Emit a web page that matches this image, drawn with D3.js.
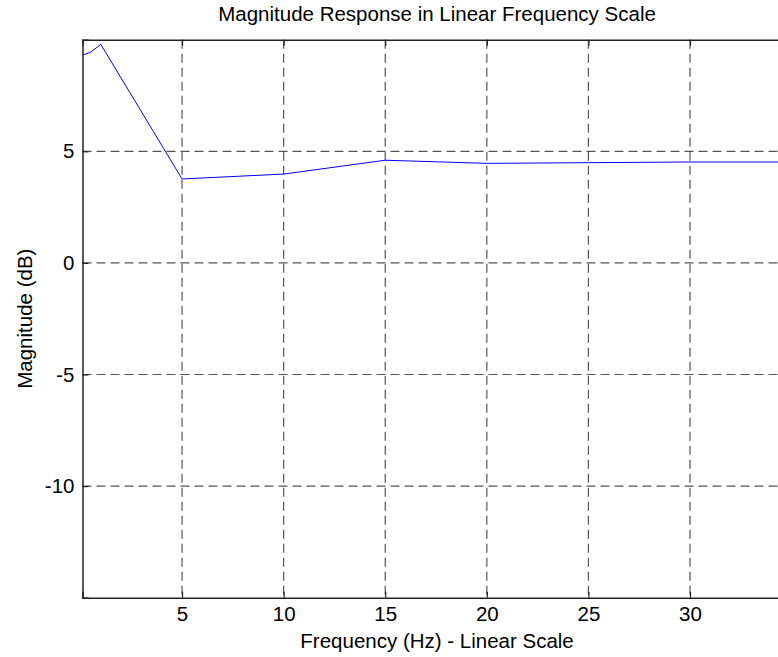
<!DOCTYPE html>
<html>
<head>
<meta charset="utf-8">
<script src="https://cdn.jsdelivr.net/npm/d3@7"></script>
<style>
  body { margin: 0; background: #fff; }
  text { font-family: "Liberation Sans", Arial, sans-serif; fill: #000; }
</style>
</head>
<body>
<div id="my_viz"></div>
<script>
var width = 778,
    height = 657;

// data
var freqs = [0.1, 0.5, 1, 5, 10, 15, 20, 25, 30, 35];
var magDb = [9.31, 9.44, 9.79, 3.76, 3.98, 4.60, 4.46, 4.49, 4.52, 4.52];
var xTicks = [5, 10, 15, 20, 25, 30];
var yTicks = [5, 0, -5, -10];

var plotLeft = 82.5, plotRight = 791.6, plotTop = 39.7, plotBottom = 597.7;
var fontSize = 20.5;

var x = d3.scaleLinear().domain([0.1, 35]).range([plotLeft, plotRight]);
var y = d3.scaleLinear().domain([-15, 10]).range([plotBottom, plotTop]);

var svg = d3.select("#my_viz")
    .append("svg")
    .attr("width", width)
    .attr("height", height)
    .style("display", "block");

// grid
var grid = svg.append("g")
    .attr("stroke", "#555")
    .attr("stroke-width", 1.2)
    .attr("stroke-dasharray", "9,5");

grid.selectAll(".vgrid").data(xTicks).enter()
    .append("line")
    .attr("x1", function (d) { return x(d); })
    .attr("x2", function (d) { return x(d); })
    .attr("y1", plotTop)
    .attr("y2", plotBottom);

grid.selectAll(".hgrid").data(yTicks).enter()
    .append("line")
    .attr("x1", plotLeft)
    .attr("x2", plotRight)
    .attr("y1", function (d) { return y(d); })
    .attr("y2", function (d) { return y(d); });

// curve
var line = d3.line()
    .x(function (d, i) { return x(freqs[i]); })
    .y(function (d) { return y(d); });

svg.append("path")
    .datum(magDb)
    .attr("d", line)
    .attr("fill", "none")
    .attr("stroke", "#0000ff")
    .attr("stroke-width", 1);

// plain hyphen minus like the original
var fmt = function (d) { return String(d); };

// axes: inward ticks, MATLAB style box
var xBottom = svg.append("g")
    .attr("transform", "translate(0," + plotBottom + ")")
    .call(d3.axisBottom(x).tickValues(xTicks).tickFormat(fmt).tickSize(-6).tickPadding(9));

var xTop = svg.append("g")
    .attr("transform", "translate(0," + plotTop + ")")
    .call(d3.axisTop(x).tickValues(xTicks).tickSize(-6).tickFormat(""));

var yLeft = svg.append("g")
    .attr("transform", "translate(" + plotLeft + ",0)")
    .call(d3.axisLeft(y).tickValues(yTicks).tickFormat(fmt).tickSize(-6).tickPadding(8));

[xBottom, xTop, yLeft].forEach(function (g) {
    g.select(".domain").attr("stroke", "#222").attr("stroke-width", 1.5);
    g.selectAll(".tick line").attr("stroke", "#222").attr("stroke-width", 1.2);
    g.selectAll(".tick text")
        .attr("font-size", fontSize)
        .attr("font-family", "Liberation Sans, Arial, sans-serif")
        .attr("fill", "#000");
});

// labels
svg.append("text")
    .attr("x", (plotLeft + plotRight) / 2)
    .attr("y", 21)
    .attr("text-anchor", "middle")
    .attr("font-size", fontSize)
    .text("Magnitude Response in Linear Frequency Scale");

svg.append("text")
    .attr("x", (plotLeft + plotRight) / 2)
    .attr("y", 648)
    .attr("text-anchor", "middle")
    .attr("font-size", fontSize)
    .text("Frequency (Hz) - Linear Scale");

svg.append("text")
    .attr("transform", "translate(32," + (plotTop + plotBottom) / 2 + ") rotate(-90)")
    .attr("text-anchor", "middle")
    .attr("font-size", fontSize)
    .text("Magnitude (dB)");
</script>
</body>
</html>
